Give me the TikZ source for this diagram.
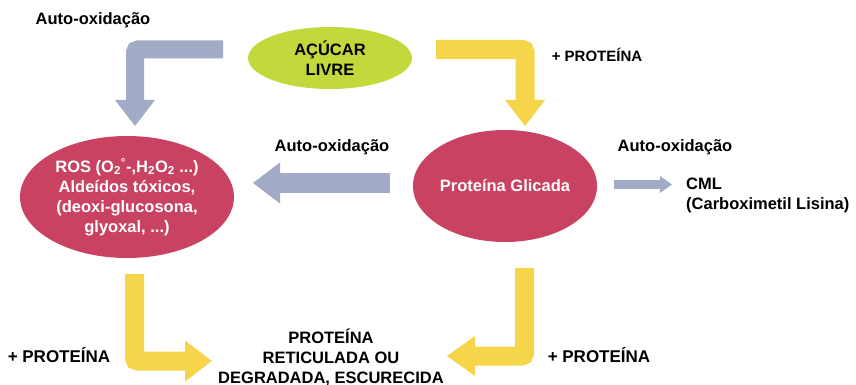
\documentclass[tikz,border=0pt]{standalone}
\usepackage{fontspec}
\setmainfont{Liberation Sans}
\usetikzlibrary{arrows.meta,positioning,shapes.geometric}
\definecolor{sugargreen}{HTML}{C2D83B}
\definecolor{glycred}{HTML}{C94262}
\definecolor{oxgrey}{HTML}{A2ABC6}
\definecolor{protyellow}{HTML}{F7D54A}

\begin{document}
\begin{tikzpicture}[x=1pt,y=-1pt,font=\fontsize{16.5}{20}\selectfont\bfseries]
\tikzstyle{molecule} = [ellipse, inner sep=0pt, align=center, text=white, fill=glycred]
\tikzstyle{txt} = [inner sep=0pt, align=center]
\tikzstyle{fatgrey} = [draw=oxgrey, line width=18pt, rounded corners=3pt,
    -{Triangle[length=26pt,width=40pt,line width=0pt]}]
\tikzstyle{fatyellow} = [fatgrey, draw=protyellow]

\useasboundingbox (0,0) rectangle (856,385);

% molecules
\node[molecule, fill=sugargreen, text=black, minimum width=164pt, minimum height=62pt] (sugar) at (330,58) {AÇÚCAR\\LIVRE};
\node[molecule, minimum width=214pt, minimum height=122pt] (ros) at (127,197)
    {ROS (O\textsubscript{2}\textsuperscript{°}-,H\textsubscript{2}O\textsubscript{2} ...)\\Aldeídos tóxicos,\\(deoxi-glucosona,\\glyoxal, ...)};
\node[molecule, minimum width=184pt, minimum height=112pt] (glycated) at (505,186) {Proteína Glicada};
\node[txt, align=left, anchor=west] (cml) at (686,195) {CML\\(Carboximetil Lisina)};
\node[txt] (crosslinked) at (331,357) {PROTEÍNA\\RETICULADA OU\\DEGRADADA, ESCURECIDA};

% labels
\node[txt] (oxTop) at (93,20) {Auto-oxidação};
\node[txt] (oxMid) at (332,147) {Auto-oxidação};
\node[txt] (oxRight) at (675,147) {Auto-oxidação};
\node[txt, font=\fontsize{15}{18}\selectfont\bfseries] (protTop) at (597,55) {+ PROTEÍNA};
\node[txt, font=\fontsize{17}{20}\selectfont\bfseries] (protLeft) at (59,355) {+ PROTEÍNA};
\node[txt, font=\fontsize{17}{20}\selectfont\bfseries] (protRight) at (599,355) {+ PROTEÍNA};

% arrow ends
\coordinate (greyStart) at (223,49.5);
\coordinate (greyEnd) at (135,126);
\coordinate (yellowStart) at (436,49.5);
\coordinate (yellowEnd) at (525,126);
\coordinate (midStart) at (390,183);
\coordinate (midEnd) at (253,183);
\coordinate (cmlStart) at (614,184.5);
\coordinate (cmlEnd) at (672,184.5);
\coordinate (leftStart) at (134.5,274);
\coordinate (leftEnd) at (212,361);
\coordinate (rightStart) at (524.5,268);
\coordinate (rightEnd) at (447,356);

\draw[fatgrey] (greyStart) -| (greyEnd);
\draw[fatyellow, line width=19pt] (yellowStart) -| (yellowEnd);
\draw[fatgrey, line width=20pt, -{Triangle[length=27pt,width=41pt,line width=0pt]}] (midStart) -- (midEnd);
\draw[fatgrey, line width=9pt, -{Triangle[length=12pt,width=17pt,line width=0pt]}] (cmlStart) -- (cmlEnd);
\draw[fatyellow, line width=19pt, -{Triangle[length=27pt,width=41pt,line width=0pt]}] (leftStart) |- (leftEnd);
\draw[fatyellow, line width=19pt, -{Triangle[length=28pt,width=40pt,line width=0pt]}] (rightStart) |- (rightEnd);

\end{tikzpicture}
\end{document}
